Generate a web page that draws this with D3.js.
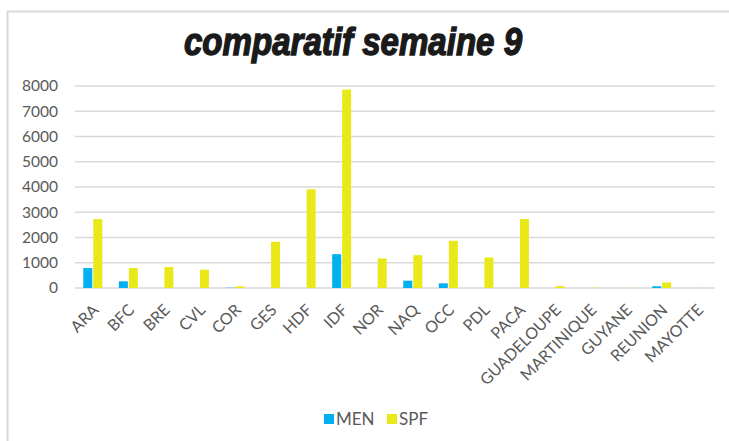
<!DOCTYPE html>
<html>
<head>
<meta charset="utf-8">
<script src="https://cdn.jsdelivr.net/npm/d3@7"></script>
<style>
  html, body { margin: 0; padding: 0; background: #fff; }
  svg { display: block; }
</style>
</head>
<body>
<svg id="chart" width="729" height="441"></svg>
<script>
const categories = ["ARA","BFC","BRE","CVL","COR","GES","HDF","IDF","NOR","NAQ","OCC","PDL","PACA","GUADELOUPE","MARTINIQUE","GUYANE","REUNION","MAYOTTE"];
const seriesNames = ["MEN","SPF"];
const menValues = [790, 265, 0, 0, 10, 0, 0, 1340, 0, 290, 185, 0, 0, 0, 0, 0, 70, 0];
const spfValues = [2730, 790, 830, 725, 65, 1830, 3910, 7860, 1170, 1300, 1870, 1210, 2730, 75, 10, 5, 220, 5];
const yTicks = [0, 1000, 2000, 3000, 4000, 5000, 6000, 7000, 8000];
const colors = ["#00b0f0", "#e9e919"];
const titleText = "comparatif semaine 9";

const svg = d3.select("#chart");
const W = 729, H = 441;
const m = { left: 75, right: 14, top: 86, bottom: 153 };
const labelFont = "Lato, 'Open Sans', sans-serif";

// frame
svg.append("rect").attr("x", 7.5).attr("y", 11.5).attr("width", W).attr("height", H)
  .attr("fill", "#fff").attr("stroke", "#d9d9d9").attr("stroke-width", 2);

svg.append("text")
  .attr("transform", "translate(353,55) scale(0.87,1)")
  .attr("text-anchor", "middle")
  .style("font-family", "'Liberation Sans', Arial, sans-serif")
  .style("font-weight", "bold").style("font-style", "italic")
  .style("font-size", "38px").attr("fill", "#1a1a1a")
  .attr("stroke", "#1a1a1a").attr("stroke-width", 1.4)
  .text(titleText);

const x = d3.scaleBand().domain(categories).range([m.left, W - m.right]).paddingInner(0).paddingOuter(0);
const y = d3.scaleLinear().domain([0, 8000]).range([H - m.bottom, m.top]);

const data = categories.map((c, i) => ({ cat: c, vals: [menValues[i], spfValues[i]] }));
const inner = d3.scaleBand().domain(seriesNames).range([0, 19]).paddingInner(0.1);
const groupOffset = (x.bandwidth() - 19) / 2;

// gridlines
svg.append("g").selectAll("line").data(yTicks).join("line")
  .attr("x1", m.left).attr("x2", W - m.right)
  .attr("y1", d => y(d)).attr("y2", d => y(d))
  .attr("stroke", "#d9d9d9").attr("stroke-width", 1.5);

// y axis labels
const yAxis = d3.axisLeft(y).tickValues(yTicks).tickFormat(d3.format("d")).tickSize(0).tickPadding(17);
const gy = svg.append("g").attr("transform", `translate(${m.left},0)`).call(yAxis);
gy.select(".domain").remove();
gy.selectAll("text").style("font-family", labelFont)
  .style("font-size", "15.5px").attr("fill", "#595959");

// bars
const groups = svg.append("g").selectAll("g").data(data).join("g")
  .attr("transform", d => `translate(${x(d.cat) + groupOffset},0)`);
groups.selectAll("rect").data(d => d.vals.map((v, k) => ({ v, k }))).join("rect")
  .attr("x", d => inner(seriesNames[d.k]))
  .attr("width", inner.bandwidth())
  .attr("y", d => y(d.v))
  .attr("height", d => y(0) - y(d.v))
  .attr("fill", d => colors[d.k]);

// x axis labels
const xAxis = d3.axisBottom(x).tickSize(0);
const gx = svg.append("g").attr("transform", `translate(0,${y(0)})`).call(xAxis);
gx.select(".domain").remove();
gx.selectAll("text")
  .style("font-family", labelFont)
  .style("font-size", "16px").attr("fill", "#595959")
  .attr("text-anchor", "end")
  .attr("x", 0).attr("y", 0).attr("dy", 0)
  .attr("transform", "translate(7,23) rotate(-45)");

// legend
const legend = svg.append("g").attr("transform", "translate(324,414)");
const li = legend.selectAll("g").data(seriesNames).join("g")
  .attr("transform", (d, i) => `translate(${i * 63},0)`);
li.append("rect").attr("width", 10).attr("height", 10).attr("fill", (d, i) => colors[i]);
li.append("text").attr("x", 12).attr("y", 10.5)
  .style("font-family", labelFont)
  .style("font-size", "17px").attr("fill", "#595959").text(d => d);
</script>
</body>
</html>
